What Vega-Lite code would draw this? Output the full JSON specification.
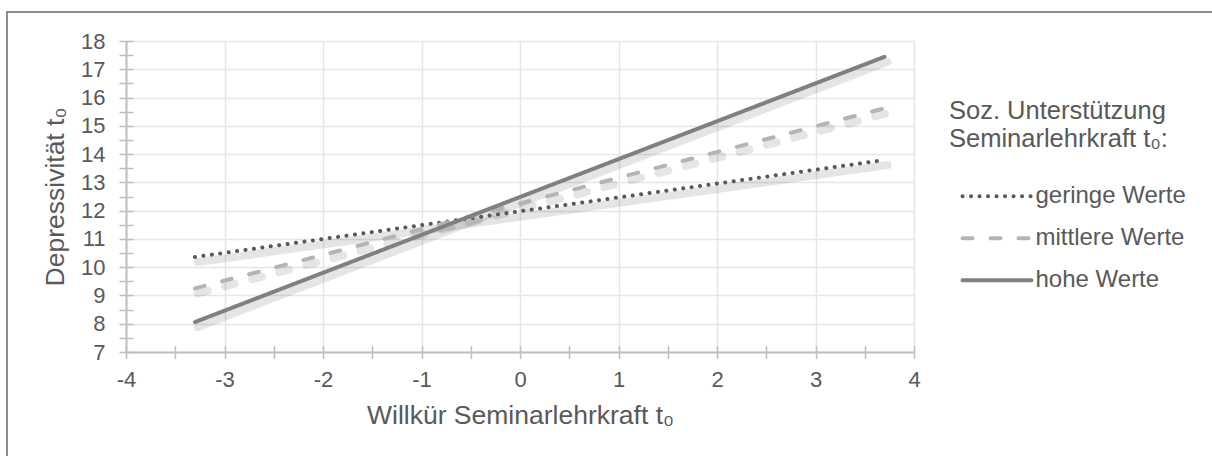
{
  "$schema": "https://vega.github.io/schema/vega-lite/v6.json",
  "width": 1205,
  "height": 444,
  "autosize": {"type": "none"},
  "padding": {"left": 7, "top": 12, "right": 0, "bottom": 0},
  "background": "white",
  "config": {
    "font": "Liberation Sans",
    "view": {"stroke": "#8c8c8c", "strokeWidth": 2, "strokeDash": [1205, 1649, 444], "fill": "white"}
  },
  "data": {
    "values": [
      {"series": "geringe Werte", "x": -3.3, "y": 10.36},
      {"series": "geringe Werte", "x": 3.7, "y": 13.79},
      {"series": "mittlere Werte", "x": -3.3, "y": 9.25},
      {"series": "mittlere Werte", "x": 3.7, "y": 15.62},
      {"series": "hohe Werte", "x": -3.3, "y": 8.06},
      {"series": "hohe Werte", "x": 3.7, "y": 17.44}
    ]
  },
  "layer": [
    {
      "transform": [{"filter": "datum.series !== 'mittlere Werte'"}],
      "mark": {"type": "line", "stroke": "#000000", "opacity": 0.1, "strokeWidth": 8, "strokeCap": "round", "xOffset": 3, "yOffset": 5},
      "encoding": {
        "x": {
          "field": "x", "type": "quantitative",
          "scale": {"domain": [-4, 4], "range": [119, 907], "nice": false, "zero": false},
          "axis": {"orient": "top", "offset": -340, "values": [-4, -3.5, -3, -2.5, -2, -1.5, -1, -0.5, 0, 0.5, 1, 1.5, 2, 2.5, 3, 3.5, 4], "labels": false, "domain": false, "ticks": true, "tickSize": 6.5, "tickColor": "#bfbfbf", "tickWidth": 1.5, "title": null,
            "grid": true, "gridColor": "#e6e6e6", "gridWidth": 1.5,
            "gridOpacity": {"condition": {"test": "datum.value % 1 !== 0", "value": 0}, "value": 1}}
        },
        "y": {
          "field": "y", "type": "quantitative",
          "scale": {"domain": [7, 18], "range": [340, 29], "nice": false, "zero": false},
          "axis": {"orient": "right", "offset": -1086, "values": [7, 7.5, 8, 8.5, 9, 9.5, 10, 10.5, 11, 11.5, 12, 12.5, 13, 13.5, 14, 14.5, 15, 15.5, 16, 16.5, 17, 17.5, 18], "labels": false, "domain": false, "grid": false, "ticks": true, "tickSize": 7, "tickColor": "#bfbfbf", "tickWidth": 1.5, "title": null}
        },
        "detail": {"field": "series", "type": "nominal"}
      }
    },
    {
      "transform": [{"filter": "datum.series === 'mittlere Werte'"}],
      "mark": {"type": "line", "stroke": "#000000", "opacity": 0.1, "strokeWidth": 8, "strokeCap": "round", "strokeDash": [10, 18], "xOffset": 3, "yOffset": 5},
      "encoding": {
        "x": {"field": "x", "type": "quantitative", "axis": null},
        "y": {"field": "y", "type": "quantitative", "axis": null}
      }
    },
    {
      "mark": {"type": "line", "strokeWidth": 4, "strokeCap": "round"},
      "encoding": {
        "x": {
          "field": "x", "type": "quantitative",
          "axis": {
            "orient": "bottom", "offset": -104,
            "values": [-4, -3.5, -3, -2.5, -2, -1.5, -1, -0.5, 0, 0.5, 1, 1.5, 2, 2.5, 3, 3.5, 4],
            "labelExpr": "datum.value % 1 === 0 ? '' + datum.value : ''",
            "labelFontSize": 22, "labelColor": "#595959", "labelPadding": 11,
            "labelFlush": false, "labelOverlap": false, "labelBound": false,
            "tickSize": 6.5, "tickColor": "#bfbfbf", "tickWidth": 1.5,
            "domainColor": "#bfbfbf", "domainWidth": 2,
            "grid": false,
            "title": "Willkür Seminarlehrkraft t₀", "titleFontSize": 26.5, "titleFontWeight": "normal", "titleColor": "#595959", "titlePadding": 12
          }
        },
        "y": {
          "field": "y", "type": "quantitative",
          "axis": {
            "orient": "left", "offset": -119,
            "values": [7, 7.5, 8, 8.5, 9, 9.5, 10, 10.5, 11, 11.5, 12, 12.5, 13, 13.5, 14, 14.5, 15, 15.5, 16, 16.5, 17, 17.5, 18],
            "labelExpr": "datum.value % 1 === 0 ? '' + datum.value : ''",
            "labelFontSize": 22, "labelColor": "#595959", "labelPadding": 14,
            "labelOverlap": false, "labelBound": false, "labelFlush": false,
            "tickSize": 7, "tickColor": "#bfbfbf", "tickWidth": 1.5,
            "domainColor": "#bfbfbf", "domainWidth": 2,
            "grid": true, "gridColor": "#e6e6e6", "gridWidth": 1.5,
            "gridOpacity": {"condition": {"test": "datum.value % 1 !== 0", "value": 0}, "value": 1},
            "title": "Depressivität t₀", "titleFontSize": 26.5, "titleFontWeight": "normal", "titleColor": "#595959", "titlePadding": 11
          }
        },
        "color": {
          "field": "series", "type": "nominal",
          "scale": {"domain": ["geringe Werte", "mittlere Werte", "hohe Werte"], "range": ["#595959", "#b4b4b4", "#808080"]},
          "legend": {
            "orient": "none", "legendX": 942, "legendY": 87,
            "title": ["Soz. Unterstützung", "Seminarlehrkraft t₀:"],
            "titleFontSize": 25.5, "titleFontWeight": "normal", "titleColor": "#595959", "titleLineHeight": 28, "titlePadding": 23, "titleLimit": 500,
            "labelFontSize": 24, "labelColor": "#595959", "labelOffset": 2, "labelLimit": 500,
            "symbolType": "stroke", "symbolSize": 4761, "symbolStrokeWidth": 4, "symbolOffset": 11.5,
            "clipHeight": 41.5, "rowPadding": 0, "padding": 0,
            "encode": {"symbols": {"update": {"strokeCap": {"value": "round"}}}}
          }
        },
        "strokeDash": {
          "field": "series", "type": "nominal",
          "scale": {"domain": ["geringe Werte", "mittlere Werte", "hohe Werte"], "range": [[0.1, 8.4], [10, 18], [1, 0]]},
          "legend": {
            "orient": "none", "legendX": 942, "legendY": 87,
            "title": ["Soz. Unterstützung", "Seminarlehrkraft t₀:"],
            "titleFontSize": 25.5, "titleFontWeight": "normal", "titleColor": "#595959", "titleLineHeight": 28, "titlePadding": 23, "titleLimit": 500,
            "labelFontSize": 24, "labelColor": "#595959", "labelOffset": 2, "labelLimit": 500,
            "symbolType": "stroke", "symbolSize": 4761, "symbolStrokeWidth": 4, "symbolOffset": 11.5,
            "clipHeight": 41.5, "rowPadding": 0, "padding": 0,
            "encode": {"symbols": {"update": {"strokeCap": {"value": "round"}}}}
          }
        }
      }
    }
  ],
  "resolve": {"axis": {"x": "independent", "y": "independent"}}
}
